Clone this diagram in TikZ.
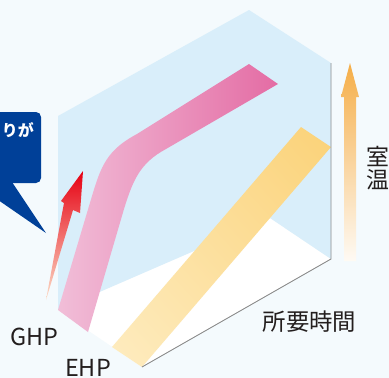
\documentclass[tikz,border=0pt]{standalone}
\usepackage{fontspec}
\usetikzlibrary{shadings}
\setmainfont{Noto Sans CJK JP}
\definecolor{bgsky}{RGB}{244,250,253}
\definecolor{wallblue}{RGB}{217,238,250}
\definecolor{edgegrey}{RGB}{140,140,140}
\definecolor{ghpL}{RGB}{241,190,216}
\definecolor{ghpR}{RGB}{228,108,164}
\definecolor{ehpL}{RGB}{254,236,192}
\definecolor{ehpR}{RGB}{251,210,120}
\definecolor{ehpM}{RGB}{252,223,156}
\definecolor{riseRed}{RGB}{230,0,18}
\definecolor{riseMid}{RGB}{236,70,36}
\definecolor{risePeach}{RGB}{252,222,200}
\definecolor{tempOrange}{RGB}{245,174,72}
\definecolor{tempPale}{RGB}{254,250,244}
\definecolor{calloutBlue}{RGB}{0,64,152}
\definecolor{inkgrey}{RGB}{35,30,30}
\tikzset{
  lbl/.style={text=inkgrey, inner sep=0pt, font=\fontsize{23.5}{24}\selectfont},
  edge/.style={edgegrey, line width=0.9bp}
}
\begin{document}
\begin{tikzpicture}[x=1bp, y=-1bp]
\fill[bgsky] (0,0) rectangle (389,378);
\useasboundingbox (0,0) rectangle (389,378);
% corners of the box
\coordinate (W_tl) at (58,116);
\coordinate (W_t) at (249,10);
\coordinate (W_tr) at (331,63);
\coordinate (W_br) at (331,259);
\coordinate (W_in) at (270,218);
\coordinate (W_bl) at (58,310);
\coordinate (F_b) at (142,367);
\fill[white] (W_bl) -- (W_in) -- (W_br) -- (F_b) -- cycle;
\fill[wallblue] (W_bl) -- (W_tl) -- (W_t) -- (W_tr) -- (W_br) -- (W_in) -- cycle;
% EHP band
\shade[lower left=ehpL, upper right=ehpR, upper left=ehpM, lower right=ehpM]
  (112,347) -- (301,127) -- (331,147) -- (F_b) -- cycle;
% GHP band
\shade[left color=ghpL, right color=ghpR]
  (W_bl) -- (92,196) .. controls (101,166) and (107,150) .. (137,134) -- (249,64) -- (278,84)
  -- (166,149) .. controls (140,163) and (133,180) .. (124,209) -- (88,332) -- cycle;
\draw[edge] (W_tr) -- (W_br) -- (F_b);
% arrows
\shade[top color=riseRed, middle color=riseMid, bottom color=risePeach]
  (46,300) -- (64,203) -- (61,201) -- (83,171) -- (80,213) -- (73,210) -- cycle;
\shade[top color=tempOrange, bottom color=tempPale]
  (344,261) -- (344,97) -- (341,97) -- (350,63) -- (359,97) -- (356,97) -- (356,261) -- cycle;
% callout
\fill[calloutBlue, rounded corners=5bp] (-20,112) rectangle (41,183);
\fill[calloutBlue] (-28,182) -- (12,182) -- (46,233) -- cycle;
\node[text=white, inner sep=0pt, anchor=east, font=\fontsize{16}{18}\selectfont\bfseries] (note) at (34,130) {りが};
% labels
\node[lbl] (ghp) at (34,337) {GHP};
\node[lbl] (ehp) at (88,368) {EHP};
\node[lbl] (time) at (309.5,322) {所要時間};
\node[lbl, align=center, font=\fontsize{23}{23.5}\selectfont] (temp) at (378,168) {室\\温};
\end{tikzpicture}
\end{document}
